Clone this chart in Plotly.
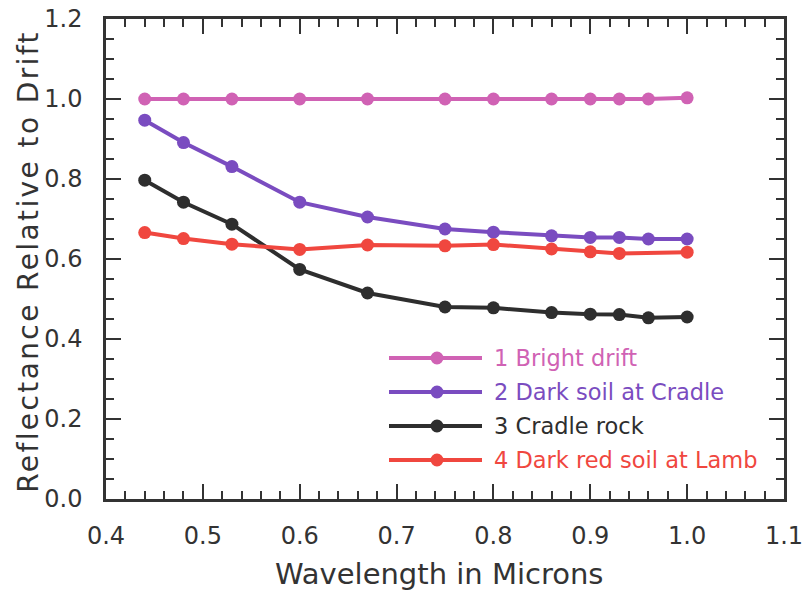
import plotly.graph_objects as go

wavelength = [0.44, 0.48, 0.53, 0.60, 0.67, 0.75, 0.80, 0.86, 0.90, 0.93, 0.96, 1.00]
bright_drift = [1.000, 1.000, 1.000, 1.000, 1.000, 1.000, 1.000, 1.000, 1.000, 1.000, 1.000, 1.003]
dark_soil_cradle = [0.947, 0.891, 0.831, 0.742, 0.705, 0.675, 0.667, 0.658, 0.654, 0.654, 0.650, 0.650]
cradle_rock = [0.797, 0.742, 0.687, 0.574, 0.515, 0.480, 0.478, 0.466, 0.462, 0.461, 0.453, 0.455]
dark_red_soil_lamb = [0.666, 0.651, 0.637, 0.624, 0.635, 0.633, 0.636, 0.625, 0.618, 0.614, None, 0.617]

series_names = ["1 Bright drift", "2 Dark soil at Cradle", "3 Cradle rock", "4 Dark red soil at Lamb"]
series_values = [bright_drift, dark_soil_cradle, cradle_rock, dark_red_soil_lamb]
series_colors = ["#d062b4", "#7a4cc0", "#2e2e2e", "#f0473f"]

x_ticks = [0.4, 0.5, 0.6, 0.7, 0.8, 0.9, 1.0, 1.1]
y_ticks = [0.0, 0.2, 0.4, 0.6, 0.8, 1.0, 1.2]

x_title = "Wavelength in Microns"
y_title = "Reflectance Relative to Drift"

FONT = "DejaVu Sans"
AX = "#333333"

fig = go.Figure()
for name, vals, col in zip(series_names, series_values, series_colors):
    fig.add_trace(go.Scatter(
        x=wavelength, y=vals, name=name, mode="lines+markers",
        connectgaps=True,
        line=dict(color=col, width=4),
        marker=dict(color=col, size=13),
        showlegend=False,
    ))

# manual legend (long line samples like the reference)
leg_rows_px = [358, 392, 426, 460]
plot_l, plot_r, plot_t, plot_b = 106, 784, 19, 499
def px2x(px):
    return (px - plot_l) / (plot_r - plot_l)
def py2y(py):
    return (plot_b - py) / (plot_b - plot_t)

for name, col, py in zip(series_names, series_colors, leg_rows_px):
    yy = py2y(py)
    fig.add_shape(type="line", xref="paper", yref="paper",
                  x0=px2x(389), x1=px2x(482), y0=yy, y1=yy,
                  line=dict(color=col, width=4))
    r = 6.5
    fig.add_shape(type="circle", xref="paper", yref="paper",
                  x0=px2x(437 - r), x1=px2x(437 + r),
                  y0=py2y(py + r), y1=py2y(py - r),
                  fillcolor=col, line=dict(color=col, width=0))
    fig.add_annotation(xref="paper", yref="paper", x=px2x(492), y=yy,
                       text=name, showarrow=False, xanchor="left", yanchor="middle",
                       font=dict(family=FONT, size=22.5, color=col))

# axis titles
fig.add_annotation(xref="paper", yref="paper", x=px2x(439), y=py2y(574),
                   text=x_title, showarrow=False, xanchor="center", yanchor="middle",
                   font=dict(family=FONT, size=29, color=AX))
fig.add_annotation(xref="paper", yref="paper", x=px2x(28), y=py2y(262),
                   text=y_title, showarrow=False, xanchor="center", yanchor="middle",
                   textangle=-90, font=dict(family=FONT, size=28, color=AX))

axis_common = dict(
    showline=True, linecolor=AX, linewidth=2.5, mirror="ticks",
    ticks="inside", ticklen=15, tickwidth=2, tickcolor=AX,
    showgrid=False, zeroline=False, automargin=False,
    tickfont=dict(family=FONT, size=24, color=AX),
)

fig.update_xaxes(
    range=[0.4, 1.1], tickvals=x_ticks, ticktext=[f"{v:.1f}" for v in x_ticks],
    minor=dict(dtick=0.02, tick0=0.4, ticks="inside", ticklen=8, tickwidth=2, tickcolor=AX),
    ticklabelstandoff=13,
    **axis_common,
)
fig.update_yaxes(
    range=[0.0, 1.2], tickvals=y_ticks, ticktext=[f"{v:.1f}" for v in y_ticks],
    minor=dict(dtick=0.05, tick0=0.0, ticks="inside", ticklen=8, tickwidth=2, tickcolor=AX),
    ticklabelstandoff=16,
    **axis_common,
)

fig.update_layout(
    width=804, height=590,
    margin=dict(l=106, r=20, t=19, b=91),
    paper_bgcolor="white", plot_bgcolor="white",
    showlegend=False,
)

post = """
document.body.style.margin = '0';
document.body.style.overflow = 'hidden';
document.querySelectorAll('text.annotation-text').forEach(function(t){
  if (t.textContent === 'Reflectance Relative to Drift') { t.style.letterSpacing = '2.4px'; }
});
"""
fig.write_html("out.html", post_script=post, config={"displayModeBar": False})
